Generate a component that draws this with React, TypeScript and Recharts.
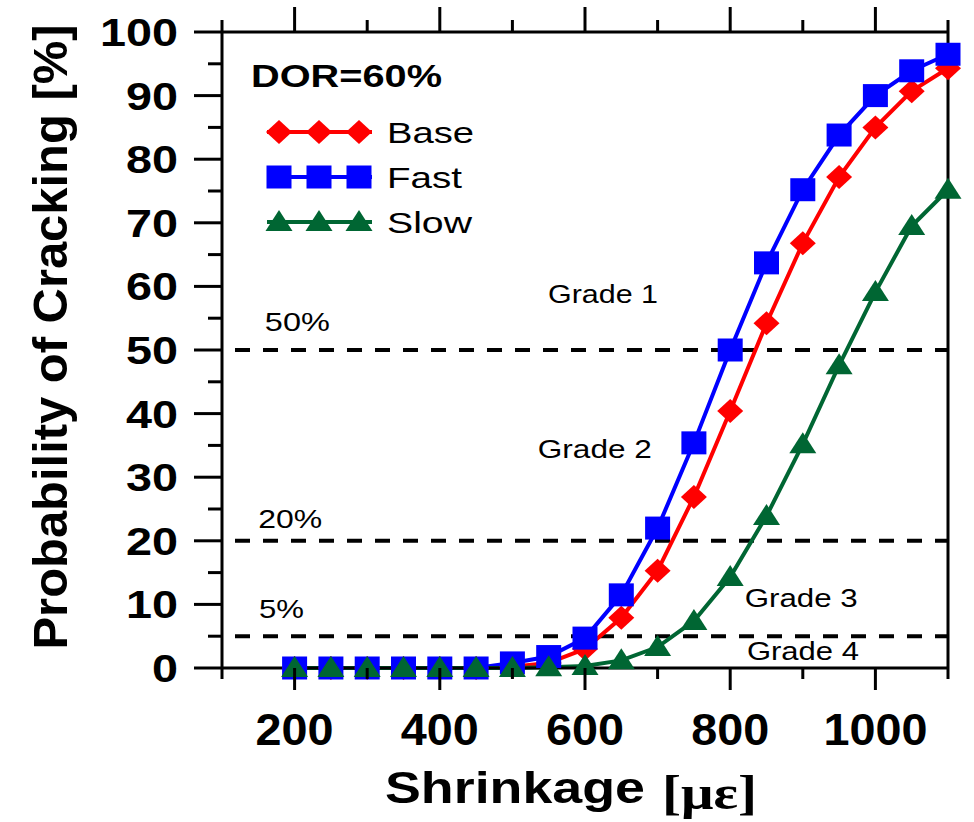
import {
  Customized,
  Line,
  LineChart,
  ReferenceDot,
  ReferenceLine,
  XAxis,
  YAxis,
} from "recharts";

const SHRINKAGE = [200, 250, 300, 350, 400, 450, 500, 550, 600, 650, 700, 750, 800, 850, 900, 950, 1000, 1050, 1100];
const BASE = [0, 0, 0, 0, 0, 0, 0.2, 0.8, 3, 7.9, 15.3, 26.9, 40.4, 54.2, 66.8, 77.2, 85, 90.7, 94.3];
const FAST = [0, 0, 0, 0, 0, 0, 0.8, 1.8, 4.7, 11.5, 22, 35.4, 50, 63.7, 75.2, 83.8, 90, 93.9, 96.5];
const SLOW = [0, 0, 0, 0, 0, 0, 0, 0.1, 0.3, 1.2, 3.3, 7.4, 14.3, 23.9, 35.2, 47.6, 59.1, 69.5, 75.2];

const X_TICKS = [100, 200, 300, 400, 500, 600, 700, 800, 900, 1000, 1100];
const X_LABELS = [200, 400, 600, 800, 1000];
const Y_TICKS = [0, 5, 10, 15, 20, 25, 30, 35, 40, 45, 50, 55, 60, 65, 70, 75, 80, 85, 90, 95, 100];
const Y_LABELS = [0, 10, 20, 30, 40, 50, 60, 70, 80, 90, 100];

const THRESHOLDS = [50, 20, 5];
const THRESHOLD_LABELS = ["50%", "20%", "5%"];
const GRADES = ["Grade 1", "Grade 2", "Grade 3", "Grade 4"];

const rows = SHRINKAGE.map((x, i) => ({ x, base: BASE[i], fast: FAST[i], slow: SLOW[i] }));

const FONT = "'Liberation Sans', Arial, Helvetica, sans-serif";
const RED = "#ff0000";
const BLUE = "#0000ff";
const GREEN = "#006633";

function diamond(cx: number, cy: number, key?: string) {
  return (
    <polygon
      key={key}
      points={`${cx},${cy - 12} ${cx + 13},${cy} ${cx},${cy + 12} ${cx - 13},${cy}`}
      fill={RED}
    />
  );
}

function square(cx: number, cy: number, key?: string) {
  return <rect key={key} x={cx - 12.5} y={cy - 11.5} width={25} height={23} fill={BLUE} />;
}

function triangle(cx: number, cy: number, key?: string) {
  return (
    <polygon
      key={key}
      points={`${cx},${cy - 12} ${cx + 13.5},${cy + 9} ${cx - 13.5},${cy + 9}`}
      fill={GREEN}
    />
  );
}

function BottomTick({ x, y, payload }: any) {
  const v = payload.value;
  const major = v % 200 === 0;
  return (
    <g>
      <line x1={x} y1={y} x2={x} y2={y + (major ? 22 : 11)} stroke="#000" strokeWidth={3} />
      {X_LABELS.includes(v) && (
        <text
          x={x}
          y={y + 77}
          textAnchor="middle"
          fontFamily={FONT}
          fontWeight="bold"
          fontSize={44}
          fill="#000"
          textLength={String(v).length * 26}
          lengthAdjust="spacingAndGlyphs"
        >
          {v}
        </text>
      )}
    </g>
  );
}

function TopTick({ x, y, payload }: any) {
  const major = payload.value % 200 === 0;
  return <line x1={x} y1={y} x2={x} y2={y - (major ? 25 : 12)} stroke="#000" strokeWidth={3} />;
}

function LeftTick({ x, y, payload }: any) {
  const v = payload.value;
  const major = v % 10 === 0;
  return (
    <g>
      <line x1={x} y1={y} x2={x - (major ? 28 : 14)} y2={y} stroke="#000" strokeWidth={3} />
      {Y_LABELS.includes(v) && (
        <text
          x={x - 44}
          y={y + 14}
          textAnchor="end"
          fontFamily={FONT}
          fontWeight="bold"
          fontSize={39}
          fill="#000"
          textLength={String(v).length * 26}
          lengthAdjust="spacingAndGlyphs"
        >
          {v}
        </text>
      )}
    </g>
  );
}

function RightTick({ x, y, payload }: any) {
  const major = payload.value % 10 === 0;
  return <line x1={x} y1={y} x2={x + (major ? 26 : 13)} y2={y} stroke="#000" strokeWidth={3} />;
}

function textAt(label: string, width: number) {
  return (p: any) => (
    <text
      x={p.cx}
      y={p.cy}
      fontFamily={FONT}
      fontSize={25}
      fill="#000"
      textLength={width}
      lengthAdjust="spacingAndGlyphs"
    >
      {label}
    </text>
  );
}

function Decorations() {
  const legend = [
    { name: "Base", y: 132, width: 87, mark: diamond, color: RED },
    { name: "Fast", y: 177, width: 75, mark: square, color: BLUE },
    { name: "Slow", y: 222, width: 85, mark: triangle, color: GREEN },
  ];
  return (
    <g>
      <text
        x={251}
        y={87}
        fontFamily={FONT}
        fontWeight="bold"
        fontSize={32}
        fill="#000"
        textLength={191}
        lengthAdjust="spacingAndGlyphs"
      >
        DOR=60%
      </text>
      {legend.map((l) => (
        <g key={l.name}>
          <line x1={267} y1={l.y} x2={372} y2={l.y} stroke={l.color} strokeWidth={4} />
          {[279, 319, 359].map((cx) => l.mark(cx, l.y, `${l.name}-${cx}`))}
          <text
            x={387}
            y={l.y + 11}
            fontFamily={FONT}
            fontSize={30}
            fill="#000"
            textLength={l.width}
            lengthAdjust="spacingAndGlyphs"
          >
            {l.name}
          </text>
        </g>
      ))}
      <text
        x={67}
        y={337}
        transform="rotate(-90, 67, 337)"
        textAnchor="middle"
        fontFamily={FONT}
        fontWeight="bold"
        fontSize={48}
        fill="#000"
        textLength={625}
        lengthAdjust="spacingAndGlyphs"
      >
        Probability of Cracking [%]
      </text>
      <text
        x={385}
        y={803}
        fontFamily={FONT}
        fontWeight="bold"
        fontSize={44}
        fill="#000"
        textLength={260}
        lengthAdjust="spacingAndGlyphs"
      >
        Shrinkage
      </text>
      <text
        x={662}
        y={809}
        fontFamily="'Liberation Serif', 'Times New Roman', serif"
        fontWeight="bold"
        fontSize={48}
        fill="#000"
        textLength={95}
        lengthAdjust="spacingAndGlyphs"
      >
        [με]
      </text>
    </g>
  );
}

export default function App() {
  const axisLine = { stroke: "#000", strokeWidth: 3 };
  return (
    <div style={{ position: "absolute", left: 0, top: 0, width: 974, height: 822, background: "#fff" }}>
      <LineChart width={974} height={822} data={rows} margin={{ top: 0, right: 0, bottom: 0, left: 0 }}>
        <XAxis
          xAxisId="b"
          dataKey="x"
          type="number"
          domain={[100, 1100]}
          ticks={X_TICKS}
          interval={0}
          height={154}
          axisLine={axisLine}
          tickLine={false}
          tickSize={0}
          tickMargin={0}
          tick={<BottomTick />}
        />
        <XAxis
          xAxisId="t"
          orientation="top"
          dataKey="x"
          type="number"
          domain={[100, 1100]}
          ticks={X_TICKS}
          interval={0}
          height={32}
          axisLine={axisLine}
          tickLine={false}
          tickSize={0}
          tickMargin={0}
          tick={<TopTick />}
        />
        <YAxis
          yAxisId="l"
          type="number"
          domain={[0, 100]}
          ticks={Y_TICKS}
          interval={0}
          width={222}
          axisLine={axisLine}
          tickLine={false}
          tickSize={0}
          tickMargin={0}
          tick={<LeftTick />}
        />
        <YAxis
          yAxisId="r"
          orientation="right"
          type="number"
          domain={[0, 100]}
          ticks={Y_TICKS}
          interval={0}
          width={26}
          axisLine={axisLine}
          tickLine={false}
          tickSize={0}
          tickMargin={0}
          tick={<RightTick />}
        />

        {THRESHOLDS.map((t) => (
          <ReferenceLine
            key={t}
            xAxisId="b"
            yAxisId="l"
            y={t}
            stroke="#000"
            strokeWidth={4}
            strokeDasharray="15 13"
            strokeDashoffset={15}
          />
        ))}

        <Line
          xAxisId="b"
          yAxisId="l"
          dataKey="base"
          type="linear"
          stroke={RED}
          strokeWidth={4}
          isAnimationActive={false}
          dot={(p: any) => diamond(p.cx, p.cy, `b${p.index}`)}
          activeDot={false}
        />
        <Line
          xAxisId="b"
          yAxisId="l"
          dataKey="fast"
          type="linear"
          stroke={BLUE}
          strokeWidth={4}
          isAnimationActive={false}
          dot={(p: any) => square(p.cx, p.cy, `f${p.index}`)}
          activeDot={false}
        />
        <Line
          xAxisId="b"
          yAxisId="l"
          dataKey="slow"
          type="linear"
          stroke={GREEN}
          strokeWidth={4}
          isAnimationActive={false}
          dot={(p: any) => triangle(p.cx, p.cy, `s${p.index}`)}
          activeDot={false}
        />

        <ReferenceDot xAxisId="b" yAxisId="l" x={159} y={53} r={0} shape={textAt(THRESHOLD_LABELS[0], 65)} />
        <ReferenceDot xAxisId="b" yAxisId="l" x={150} y={22} r={0} shape={textAt(THRESHOLD_LABELS[1], 64)} />
        <ReferenceDot xAxisId="b" yAxisId="l" x={151} y={7.9} r={0} shape={textAt(THRESHOLD_LABELS[2], 45)} />
        <ReferenceDot xAxisId="b" yAxisId="l" x={549} y={57.4} r={0} shape={textAt(GRADES[0], 110)} />
        <ReferenceDot xAxisId="b" yAxisId="l" x={535} y={33} r={0} shape={textAt(GRADES[1], 114)} />
        <ReferenceDot xAxisId="b" yAxisId="l" x={820} y={9.6} r={0} shape={textAt(GRADES[2], 113)} />
        <ReferenceDot xAxisId="b" yAxisId="l" x={823} y={1.26} r={0} shape={textAt(GRADES[3], 112)} />

        <Customized component={<Decorations />} />
      </LineChart>
    </div>
  );
}
